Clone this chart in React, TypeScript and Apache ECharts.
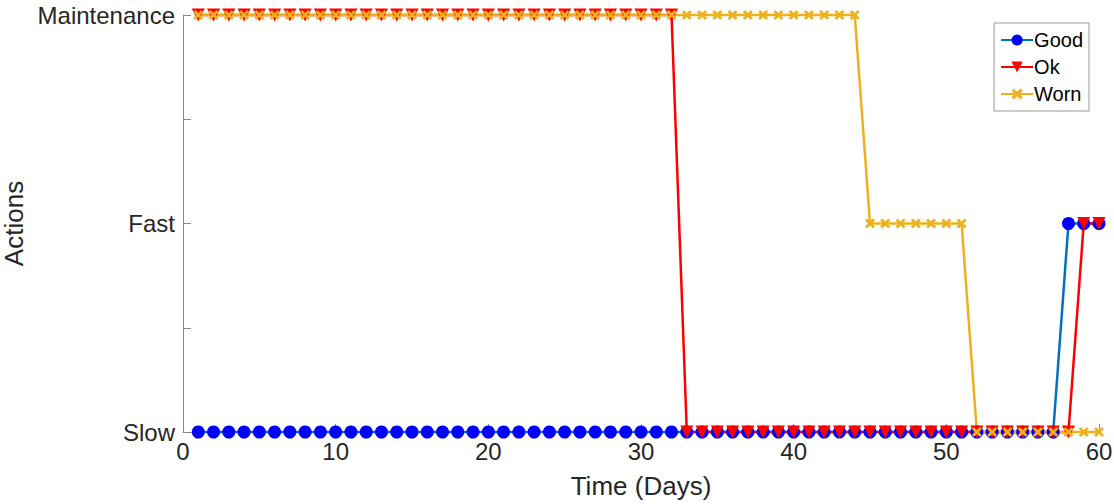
import React, { useEffect, useRef } from "react";
import * as echarts from "echarts";

const days = [1,2,3,4,5,6,7,8,9,10,11,12,13,14,15,16,17,18,19,20,21,22,23,24,25,26,27,28,29,30,31,32,33,34,35,36,37,38,39,40,41,42,43,44,45,46,47,48,49,50,51,52,53,54,55,56,57,58,59,60];
// 1 = Slow, 2 = Fast, 3 = Maintenance
const good = [1,1,1,1,1,1,1,1,1,1,1,1,1,1,1,1,1,1,1,1,1,1,1,1,1,1,1,1,1,1,1,1,1,1,1,1,1,1,1,1,1,1,1,1,1,1,1,1,1,1,1,1,1,1,1,1,1,2,2,2];
const ok = [3,3,3,3,3,3,3,3,3,3,3,3,3,3,3,3,3,3,3,3,3,3,3,3,3,3,3,3,3,3,3,3,1,1,1,1,1,1,1,1,1,1,1,1,1,1,1,1,1,1,1,1,1,1,1,1,1,1,2,2];
const worn = [3,3,3,3,3,3,3,3,3,3,3,3,3,3,3,3,3,3,3,3,3,3,3,3,3,3,3,3,3,3,3,3,3,3,3,3,3,3,3,3,3,3,3,3,2,2,2,2,2,2,2,1,1,1,1,1,1,1,1,1];
const yLabels: Record<string, string> = { "1": "Slow", "2": "Fast", "3": "Maintenance" };

const crossPath = "path://M2,0 L5,3 L8,0 L10,2 L7,5 L10,8 L8,10 L5,7 L2,10 L0,8 L3,5 L0,2 Z";

export default function App() {
  const ref = useRef<HTMLDivElement>(null);
  useEffect(() => {
    document.body.style.margin = "0";
    const chart = echarts.init(ref.current!, null, { renderer: "svg" });
    const font = "Liberation Sans, Arial, sans-serif";
    const pair = (arr: number[]) => days.map((d, i) => [d, arr[i]]);
    chart.setOption({
      animation: false,
      textStyle: { fontFamily: font },
      grid: { left: 183, right: 15, top: 15, bottom: 72, containLabel: false, outerBoundsMode: "none" },
      legend: {
        orient: "vertical",
        right: 25,
        top: 23,
        padding: [7, 6, 7, 6],
        borderColor: "#999",
        borderWidth: 1,
        itemGap: 7,
        itemWidth: 32,
        itemHeight: 14,
        textStyle: { fontSize: 20, color: "#000", fontFamily: font, padding: [0, 0, 0, -4] },
        data: ["Good", "Ok", "Worn"],
      },
      xAxis: {
        type: "value",
        min: 0,
        max: 60,
        interval: 10,
        name: "Time (Days)",
        nameLocation: "middle",
        nameGap: 41,
        nameTextStyle: { fontSize: 26, color: "#262626", fontFamily: font },
        axisLine: { show: true, lineStyle: { color: "#888", width: 1 } },
        axisTick: { show: true, inside: true, length: 8, lineStyle: { color: "#888" } },
        axisLabel: { fontSize: 24, color: "#262626", margin: 7, fontFamily: font },
        splitLine: { show: false },
      },
      yAxis: {
        type: "value",
        min: 1,
        max: 3,
        interval: 0.5,
        name: "Actions",
        nameLocation: "middle",
        nameGap: 147,
        nameTextStyle: { fontSize: 26, color: "#262626", fontFamily: font },
        axisLine: { show: true, lineStyle: { color: "#888", width: 1 } },
        axisTick: { show: true, inside: true, length: 8, lineStyle: { color: "#888" } },
        axisLabel: {
          fontSize: 24,
          color: "#262626",
          margin: 8,
          fontFamily: font,
          formatter: (v: number) => yLabels[String(v)] || "",
        },
        splitLine: { show: false },
      },
      series: [
        {
          name: "Good",
          type: "line",
          data: pair(good),
          clip: false,
          symbol: "circle",
          symbolSize: 13,
          itemStyle: { color: "#0000ff" },
          lineStyle: { color: "#0072BD", width: 2.5 },
        },
        {
          name: "Ok",
          type: "line",
          data: pair(ok),
          clip: false,
          symbol: "triangle",
          symbolRotate: 180,
          symbolSize: 13,
          itemStyle: { color: "#ff0000" },
          lineStyle: { color: "#ff0000", width: 2.5 },
        },
        {
          name: "Worn",
          type: "line",
          data: pair(worn),
          clip: false,
          symbol: crossPath,
          symbolSize: 10,
          itemStyle: { color: "#EDB120" },
          lineStyle: { color: "#EDB120", width: 2.5 },
        },
      ],
    });
    return () => chart.dispose();
  }, []);
  return <div ref={ref} style={{ width: 1114, height: 504 }} />;
}
